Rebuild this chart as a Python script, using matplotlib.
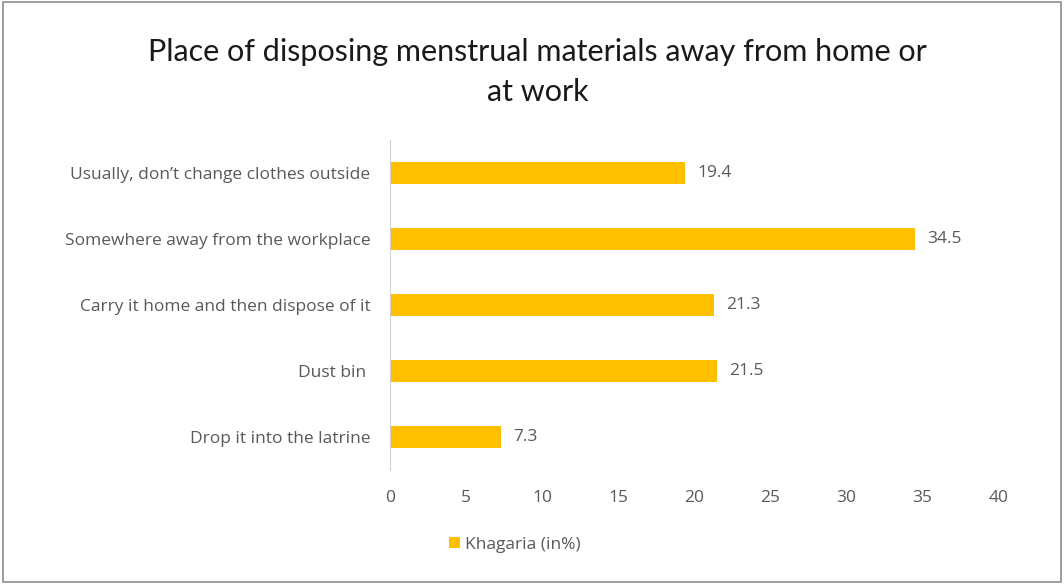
import matplotlib.pyplot as plt
from matplotlib.patches import Rectangle

categories = ["Usually, don\u2019t change clothes outside",
              "Somewhere away from the workplace",
              "Carry it home and then dispose of it",
              "Dust bin ",
              "Drop it into the latrine"]
values = [19.4, 34.5, 21.3, 21.5, 7.3]
series_name = "Khagaria (in%)"
xticks = [0, 5, 10, 15, 20, 25, 30, 35, 40]

plt.rcParams['font.family'] = ['Open Sans', 'DejaVu Sans']
gold = '#FFC000'
grey = '#595959'

fig = plt.figure(figsize=(10.64, 5.87), dpi=100)
ax = fig.add_axes([0.3665, 0.199, 0.572, 0.5625])

ypos = list(range(len(categories)))[::-1]
ax.barh(ypos, values, height=0.33, color=gold, label=series_name)
for y, v in zip(ypos, values):
    ax.text(v + 0.8, y, '%.1f' % v, va='center', ha='left', fontsize=12.5, color=grey)

ax.set_xlim(0, 40)
ax.set_ylim(-0.5, 4.5)
ax.set_xticks(xticks)
ax.set_yticks(ypos)
ax.set_yticklabels(categories, fontsize=13.2)
ax.tick_params(axis='both', length=0, labelsize=12.5, colors=grey)
ax.tick_params(axis='x', pad=14)
ax.tick_params(axis='y', pad=14)
for s in ['top', 'right', 'bottom']:
    ax.spines[s].set_visible(False)
ax.spines['left'].set_color('#d0d0d0')

fig.suptitle("Place of disposing menstrual materials away from home or\nat work",
             x=0.505, y=0.935, fontsize=22, color='#1a1a1a', linespacing=1.5,
             family=['Lato', 'DejaVu Sans'])

fig.legend(loc='center', bbox_to_anchor=(0.484, 0.072), frameon=False, fontsize=12.5,
           handlelength=0.6, handleheight=0.6, handletextpad=0.3, labelcolor=grey)

fig.patches.append(Rectangle((0.003, 0.008), 0.994, 0.988, transform=fig.transFigure,
                             fill=False, edgecolor='#8c8c8c', linewidth=1.2))

fig.savefig('out.png', dpi=100)
